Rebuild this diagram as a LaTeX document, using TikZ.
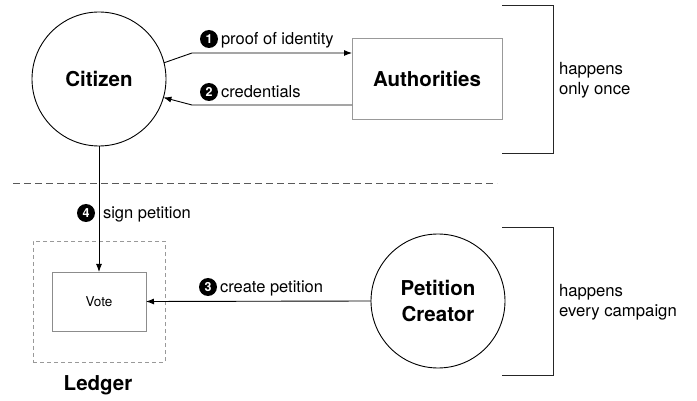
\documentclass[tikz,border=0pt]{standalone}
\usepackage{fontspec}
\setmainfont{TeX Gyre Heros}
\usetikzlibrary{arrows.meta}

\begin{document}
\begin{tikzpicture}[x=1pt,y=-1pt,
  every node/.style={inner sep=0pt, outer sep=0pt},
  actor/.style={circle, draw=black, line width=0.9pt, minimum size=134pt,
    font=\fontsize{20.5}{26.5}\selectfont\bfseries, align=center},
  party/.style={draw=black!40, line width=0.9pt, minimum width=150pt, minimum height=81pt,
    font=\fontsize{20.5}{25}\selectfont\bfseries},
  store/.style={draw=black!45, line width=0.9pt, minimum width=94pt, minimum height=59pt,
    font=\fontsize{13.5}{16}\selectfont},
  ledgerbox/.style={draw=black!40, line width=0.8pt, dash pattern=on 4pt off 3pt,
    minimum width=132pt, minimum height=121pt},
  flow/.style={draw=black, line width=0.9pt, -{Latex[length=8pt,width=6pt]}},
  badge/.style={circle, fill=black, text=white, minimum size=18pt,
    font=\fontsize{12.5}{13}\selectfont\bfseries},
  lbl/.style={font=\fontsize{16.5}{20}\selectfont, anchor=base west},
  note/.style={font=\fontsize{16.7}{20}\selectfont, align=left, anchor=west},
  bracket/.style={draw=black!85, line width=0.9pt},
]
\useasboundingbox (0,0) rectangle (697,401);

% participants
\node[actor] (cit) at (99,79) {Citizen};
\node[party] (auth) at (427,78.5) {Authorities};
\node[actor] (pc) at (438,301) {Petition\\Creator};
\node[ledgerbox] (ledger) at (99,301.5) {};
\node[store] (vote) at (99,301.5) {Vote};
\node[font=\fontsize{20.5}{25}\selectfont\bfseries] (ledgername) at (98,385) {Ledger};

% phase separator
\coordinate (sepL) at (13,183);
\coordinate (sepR) at (497,183);
\draw[black!65, line width=0.9pt, dash pattern=on 7pt off 4pt] (sepL) -- (sepR);

% identity exchange
\coordinate (k1) at (192,53);
\coordinate (k2) at (192,105);
\draw[flow] (cit.14) -- (k1) -- ([yshift=25.5pt]auth.west);
\draw[flow] ([yshift=-26.5pt]auth.west) -- (k2) -- (cit.-16);

% petition flows
\draw[flow] (cit.south) -- (vote.north);
\draw[flow] (pc.west) -- (vote.east);

% step labels
\node[badge] (b1) at (209,39) {1};
\node[lbl] (l1) at (221,45) {proof of identity};
\node[badge] (b2) at (209,92) {2};
\node[lbl] (l2) at (221,98) {credentials};
\node[badge] (b3) at (208,287) {3};
\node[lbl] (l3) at (220,293) {create petition};
\node[badge] (b4) at (86,213) {4};
\node[lbl] (l4) at (103,219) {sign petition};

% phase brackets
\draw[bracket] (502,5) -- (553,5) -- (553,153) -- (502,153);
\draw[bracket] (502,227) -- (553,227) -- (553,375) -- (502,375);
\node[note] (n1) at (559,80) {happens\\only once};
\node[note] (n2) at (559,302) {happens\\every campaign};
\end{tikzpicture}
\end{document}
